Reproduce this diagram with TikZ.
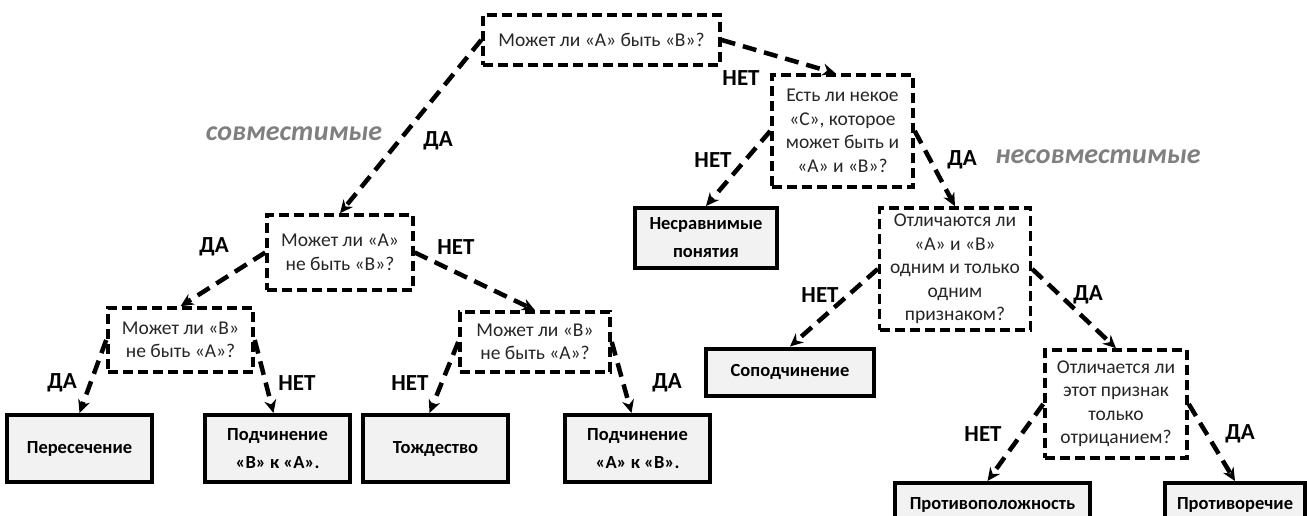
\documentclass[tikz,border=0pt]{standalone}
\usepackage{fontspec}
\setmainfont{Carlito}
\usetikzlibrary{arrows.meta}
\definecolor{termfill}{HTML}{F2F2F2}
\definecolor{qtext}{HTML}{262626}
\definecolor{grp}{HTML}{7F7F7F}
\tikzset{
  qbox/.style={draw=black, line width=3.5pt, dash pattern=on 10pt off 5pt, align=center,
    font=\fontsize{19.5}{23.5}\selectfont, text=qtext, inner sep=0pt},
  tbox/.style={draw=black, line width=4pt, fill=termfill, align=center,
    font=\bfseries\fontsize{18.5}{28}\selectfont, inner sep=0pt},
  conn/.style={line width=4.5pt, dash pattern=on 14pt off 8pt, -{Stealth[length=13pt,width=12pt]}},
  lab/.style={font=\bfseries\fontsize{23}{26}\selectfont, inner sep=0pt},
  grp/.style={font=\bfseries\itshape\fontsize{28}{30}\selectfont, text=grp, inner sep=0pt},
}
\begin{document}
\begin{tikzpicture}[x=1pt,y=-1pt]
\useasboundingbox (0,0) rectangle (1307,515);
\clip (0,0) rectangle (1307,515);
\fill[white] (0,0) rectangle (1307,515);
% question boxes
\node[qbox, minimum width=237pt, minimum height=50pt] (top) at (601.5,40) {Может ли «А» быть «В»?};
\node[qbox, minimum width=141pt, minimum height=112pt] (rq) at (842.5,131) {Есть ли некое\\«С», которое\\может быть и\\«А» и «В»?};
\node[qbox, minimum width=151pt, minimum height=122pt] (otl) at (955,269) {Отличаются ли\\«А» и «В»\\одним и только\\одним\\признаком?};
\node[qbox, minimum width=142pt, minimum height=108pt] (otr) at (1116,404) {Отличается ли\\этот признак\\только\\отрицанием?};
\node[qbox, minimum width=146pt, minimum height=75pt] (qa) at (340,252.5) {Может ли «А»\\не быть «В»?};
\node[qbox, minimum width=145pt, minimum height=64pt] (ql) at (180.5,340) {Может ли «В»\\не быть «А»?};
\node[qbox, minimum width=150pt, minimum height=60pt] (qr) at (535,342) {Может ли «В»\\не быть «А»?};
% terminal boxes
\node[tbox, minimum width=142pt, minimum height=60pt] (nes) at (706,238) {Несравнимые\\понятия};
\node[tbox, minimum width=168pt, minimum height=47pt] (sop) at (790,372) {Соподчинение};
\node[tbox, minimum width=195pt, minimum height=44pt] (prpl) at (992.5,505) {Противоположность};
\node[tbox, minimum width=140pt, minimum height=44pt] (prr) at (1235,505) {Противоречие};
\node[tbox, minimum width=145pt, minimum height=67pt] (per) at (79.5,448.5) {Пересечение};
\node[tbox, minimum width=145pt, minimum height=67pt] (pba) at (277.5,448.5) {Подчинение\\«В» к «А».};
\node[tbox, minimum width=145pt, minimum height=67pt] (tozh) at (435.5,448.5) {Тождество};
\node[tbox, minimum width=145pt, minimum height=67pt] (pab) at (637.5,448.5) {Подчинение\\«А» к «В».};
% connectors
\draw[conn] (top.west) -- (qa.north);
\draw[conn] (top.east) -- ([xshift=-7pt]rq.north);
\draw[conn] (rq.west) -- (nes.north);
\draw[conn] (rq.east) -- (otl.north);
\draw[conn] (qa.west) -- (ql.north);
\draw[conn] (qa.east) -- (qr.north);
\draw[conn] (ql.west) -- (per.north);
\draw[conn] (ql.east) -- ([xshift=-4pt]pba.north);
\draw[conn] (qr.west) -- ([xshift=-6pt]tozh.north);
\draw[conn] (qr.east) -- ([xshift=-6pt]pab.north);
\draw[conn] (otl.west) -- (sop.north);
\draw[conn] (otl.east) -- (otr.north);
\draw[conn] (otr.west) -- ([xshift=-5pt]prpl.north);
\draw[conn] (otr.east) -- (prr.north);
% labels
\node[lab] (l1) at (741,78) {НЕТ};
\node[grp] (g1) at (294,134) {совместимые};
\node[lab] (l2) at (438,141) {ДА};
\node[lab] (l3) at (713,160) {НЕТ};
\node[lab] (l4) at (962,160) {ДА};
\node[grp] (g2) at (1098,157) {несовместимые};
\node[lab] (l5) at (214,247) {ДА};
\node[lab] (l6) at (456,247) {НЕТ};
\node[lab] (l7) at (820,295) {НЕТ};
\node[lab] (l8) at (1088,295) {ДА};
\node[lab] (l9) at (62,383) {ДА};
\node[lab] (l10) at (297,383) {НЕТ};
\node[lab] (l11) at (410,383) {НЕТ};
\node[lab] (l12) at (667,383) {ДА};
\node[lab] (l13) at (983,434) {НЕТ};
\node[lab] (l14) at (1240,434) {ДА};
\end{tikzpicture}
\end{document}
